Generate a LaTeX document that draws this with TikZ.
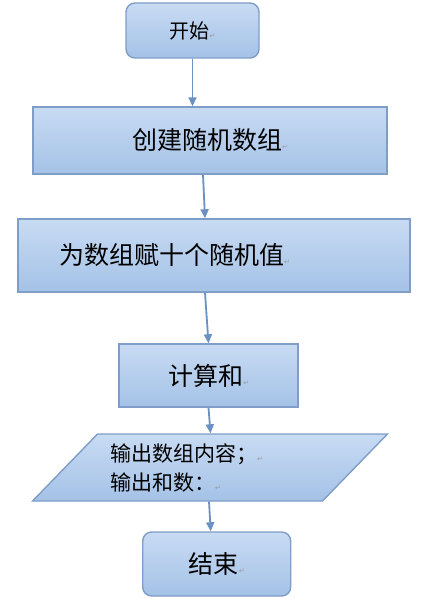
\documentclass[tikz,border=0pt]{standalone}
\usepackage{fontspec}
\setmainfont{Noto Sans CJK SC}
\newfontfamily\marksym{DejaVu Sans}
\usetikzlibrary{arrows.meta,shapes.geometric}
\definecolor{cTop}{HTML}{C8DBF3}
\definecolor{cBot}{HTML}{A4C2E7}
\definecolor{cEdge}{HTML}{7F9DC7}
\definecolor{cArrow}{HTML}{6B90C2}
\definecolor{cMark}{HTML}{9A9A9A}
\newcommand{\pmark}{{\marksym\fontsize{7}{7}\selectfont\textcolor{cMark}{↵}}}
\tikzset{
  base/.style={draw=cEdge, line width=1.4pt, top color=cTop, bottom color=cBot, inner sep=0pt},
  term/.style={base, rounded corners=9pt},
  proc/.style={base, font=\fontsize{25}{25}\selectfont},
  io/.style={base, trapezium, trapezium left angle=40, trapezium right angle=140, trapezium stretches=true, align=left, text width=200pt, font=\fontsize{21}{29}\selectfont},
  flow/.style={-{Triangle[length=9pt, width=8pt]}, line width=1.8pt, draw=cArrow},
}
\begin{document}
\begin{tikzpicture}[x=1pt, y=-1pt]
\useasboundingbox (0,0) rectangle (426,615);
\node[term, minimum width=133pt, minimum height=55pt, font=\fontsize{20}{20}\selectfont] (start) at (192.5,30.5) {开始\pmark};
\node[proc, minimum width=354pt, minimum height=67pt] (create) at (210,140.5) {创建随机数组\pmark};
\node[proc, minimum width=392pt, minimum height=73pt, inner xsep=41pt, text width=310pt, align=left] (assign) at (214,255.5) {为数组赋十个随机值\pmark};
\node[proc, minimum width=179pt, minimum height=63pt] (sum) at (208.5,375.5) {计算和\pmark};
\node[io, minimum width=356pt, minimum height=67pt] (output) at (210,467.5) {输出数组内容；\pmark\\输出和数：\pmark};
\node[term, minimum width=148pt, minimum height=64pt, font=\fontsize{25}{25}\selectfont] (stop) at (216.7,564) {结束\pmark};
% arrows
\draw[flow] (start.south) -- (start.south |- create.north);
\draw[flow] ([xshift=-7pt]create.south) -- ([xshift=-9pt]assign.north);
\draw[flow] ([xshift=-9pt]assign.south) -- (sum.north);
\draw[flow] (sum.south) -- ([xshift=0.5pt]output.north);
\draw[flow] ([xshift=-1pt]output.south) -- ([xshift=-6pt]stop.north);
\end{tikzpicture}
\end{document}
